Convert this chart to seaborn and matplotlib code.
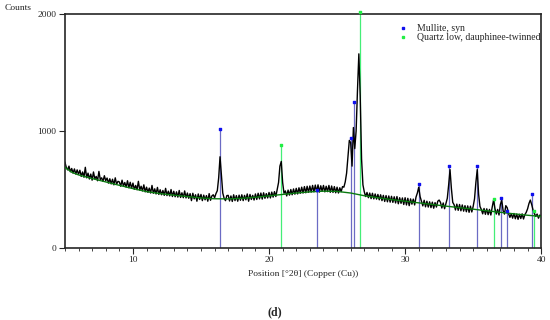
import numpy as np
import pandas as pd
import seaborn as sns
import matplotlib.pyplot as plt
from matplotlib.lines import Line2D
from matplotlib.ticker import MultipleLocator

# scan axis: 5.0 .. 40.0 deg 2theta, 0.1 deg step
two_theta = np.round(np.arange(5.0, 40.05, 0.1), 1)
counts = [
    735, 690, 668, 700, 652, 680, 640, 676, 632, 668,
    630, 665, 612, 650, 605, 690, 600, 640, 590, 632,
    580, 650, 590, 612, 575, 655, 585, 600, 570, 618,
    575, 598, 555, 592, 548, 588, 540, 600, 545, 570,
    565, 528, 580, 530, 560, 520, 575, 515, 562, 510,
    555, 502, 535, 498, 570, 495, 528, 488, 540, 480,
    520, 476, 512, 470, 535, 468, 506, 462, 518, 458,
    498, 455, 492, 450, 510, 448, 486, 445, 500, 440,
    485, 438, 480, 435, 492, 432, 472, 430, 488, 428,
    470, 425, 465, 405, 468, 420, 455, 400, 462, 415,
    458, 405, 452, 412, 448, 400, 465, 408, 445, 455,
    430, 465, 490, 600, 780, 630, 470, 425, 405, 448,
    450, 402, 445, 398, 455, 405, 448, 400, 452, 408,
    455, 405, 450, 412, 462, 400, 458, 415, 450, 410,
    462, 415, 468, 420, 470, 418, 472, 425, 465, 428,
    475, 428, 478, 435, 482, 440, 500, 560, 700, 740,
    560, 468, 488, 445, 495, 452, 500, 455, 505, 460,
    510, 462, 515, 468, 520, 470, 525, 472, 528, 476,
    530, 478, 535, 480, 538, 482, 540, 478, 532, 485,
    535, 480, 528, 482, 535, 476, 530, 475, 525, 472,
    520, 470, 515, 482, 525, 520, 565, 640, 780, 920,
    900, 700, 1030, 850, 1000, 1350, 1660, 1300, 760, 540,
    480, 440, 475, 430, 470, 422, 468, 420, 462, 418,
    458, 412, 455, 405, 450, 398, 448, 395, 445, 392,
    442, 390, 438, 385, 440, 378, 430, 382, 428, 372,
    430, 368, 425, 362, 420, 375, 418, 368, 435, 470,
    520, 440, 400, 360, 408, 352, 400, 350, 395, 345,
    392, 340, 388, 350, 400, 410, 390, 342, 385, 336,
    382, 425, 540, 670, 510, 390, 370, 325, 375, 322,
    372, 318, 368, 315, 362, 310, 360, 305, 358, 308,
    355, 420, 560, 670, 460, 355, 330, 292, 338, 288,
    335, 285, 330, 282, 350, 410, 338, 290, 330, 282,
    372, 410, 320, 290, 362, 345, 295, 262, 292, 255,
    295, 250, 290, 245, 288, 252, 292, 248, 285, 305,
    335, 380, 410, 372, 325, 295, 270, 290, 255, 282,
    268,
]

bg_pos = [5, 5.5, 6, 7, 8, 9, 10, 11, 12, 13, 14, 15, 16, 17, 18, 19, 20, 21, 22,
          23, 24, 25, 26, 27, 28, 29, 30, 31, 32, 33, 34, 35, 36, 37, 38, 39, 40]
bg_counts = [690, 648, 625, 594, 565, 536, 508, 482, 465, 452, 440, 428, 421, 420, 425,
             434, 446, 458, 470, 480, 486, 484, 470, 447, 430, 414, 400, 386, 372, 358,
             345, 332, 318, 305, 292, 280, 270]

mullite_pos = [16.42, 23.5, 26.0, 26.25, 31.0, 33.25, 35.3, 37.05, 37.5, 39.3]
mullite_int = [1020, 500, 940, 1250, 545, 700, 700, 425, 320, 460]
quartz_pos = [20.85, 26.65, 36.55, 39.5]
quartz_int = [880, 2020, 420, 320]

scan = pd.DataFrame({'pos': two_theta, 'counts': counts})
bg = pd.DataFrame({'pos': bg_pos, 'counts': bg_counts})

sns.set_style('ticks')
plt.rcParams['font.family'] = ['Liberation Serif', 'DejaVu Serif']

fig = plt.figure(figsize=(5.5, 3.2), dpi=100)
ax = fig.add_axes([0.118, 0.225, 0.866, 0.731])

# reference sticks
ax.vlines(mullite_pos, 0, mullite_int, color='#6b6bc4', lw=0.9, zorder=1)
ax.vlines(quartz_pos, 0, quartz_int, color='#44ee77', lw=0.9, zorder=1, clip_on=False)

sns.lineplot(data=scan, x='pos', y='counts', color='black', lw=1.0, ax=ax, zorder=2)
sns.lineplot(data=bg, x='pos', y='counts', color='#0a7a10', lw=1.0, ax=ax, zorder=3)

ax.scatter(mullite_pos, mullite_int, marker='s', s=3, color='#1010ee', zorder=4, clip_on=False)
ax.scatter(quartz_pos, quartz_int, marker='s', s=2, color='#22ee44', zorder=4, clip_on=False)

ax.set_xlim(5, 40)
ax.set_ylim(0, 2000)
ax.set_yticks([0, 1000, 2000])
ax.set_xticks([10, 20, 30, 40])
ax.xaxis.set_minor_locator(MultipleLocator(1))
ax.tick_params(axis='both', which='major', labelsize=6.8, length=4, width=0.8, pad=2)
ax.tick_params(axis='x', which='minor', length=2, width=0.6)
for s in ax.spines.values():
    s.set_linewidth(1.2)
ax.set_xlabel('Position [°2θ] (Copper (Cu))', fontsize=6.8, labelpad=4)
ax.set_ylabel('')

fig.text(0.008, 0.975, 'Counts', fontsize=6.8, va='center', ha='left')

handles = [
    Line2D([], [], ls='none', marker='s', ms=1.8, color='#1010ee'),
    Line2D([], [], ls='none', marker='s', ms=1.5, color='#22ee44'),
]
ax.legend(handles, ['Mullite, syn', 'Quartz low, dauphinee-twinned'],
          loc='upper left', bbox_to_anchor=(0.726, 0.925), bbox_transform=fig.transFigure,
          frameon=False, fontsize=7.0, handlelength=0.8, handletextpad=1.0,
          labelspacing=0.0, borderaxespad=0, borderpad=0)

fig.text(0.5, 0.025, '(d)', fontsize=8.5, fontweight='bold', ha='center', va='center')

fig.savefig('out.png', dpi=100)
